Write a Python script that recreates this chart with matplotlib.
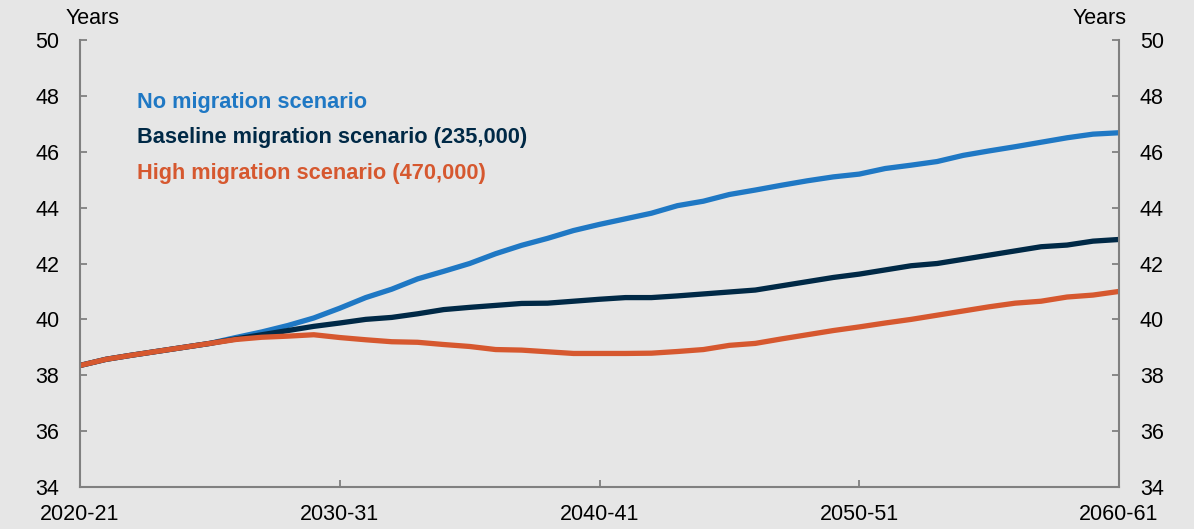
import numpy as np
import matplotlib
matplotlib.use("Agg")
import matplotlib.pyplot as plt

# Years 2020-21 .. 2060-61
start_years = list(range(2020, 2061))
year_labels = ["%d-%02d" % (y, (y + 1) % 100) for y in start_years]

# Median age, years
no_migration = [38.35, 38.57, 38.72, 38.86, 39.0, 39.14, 39.35, 39.55, 39.78, 40.05,
                40.4, 40.78, 41.08, 41.45, 41.72, 42.0, 42.35, 42.65, 42.9, 43.18,
                43.4, 43.6, 43.8, 44.07, 44.23, 44.47, 44.63, 44.8, 44.96, 45.1,
                45.2, 45.4, 45.52, 45.65, 45.87, 46.03, 46.18, 46.34, 46.5, 46.63,
                46.68]
baseline = [38.35, 38.57, 38.72, 38.86, 39.0, 39.14, 39.3, 39.45, 39.6, 39.75,
            39.87, 40.0, 40.07, 40.2, 40.35, 40.43, 40.5, 40.57, 40.58, 40.65,
            40.72, 40.78, 40.78, 40.84, 40.91, 40.98, 41.05, 41.2, 41.35, 41.5,
            41.62, 41.77, 41.92, 42.0, 42.15, 42.3, 42.45, 42.6, 42.66, 42.8,
            42.86]
high_migration = [38.35, 38.57, 38.72, 38.86, 39.0, 39.14, 39.28, 39.36, 39.4, 39.45,
                  39.35, 39.27, 39.2, 39.18, 39.1, 39.03, 38.92, 38.9, 38.84, 38.78,
                  38.78, 38.78, 38.79, 38.85, 38.92, 39.07, 39.14, 39.3, 39.45, 39.6,
                  39.73, 39.87, 40.0, 40.15, 40.3, 40.45, 40.58, 40.65, 40.8, 40.87,
                  41.0]

series_names = ["No migration scenario",
                "Baseline migration scenario (235,000)",
                "High migration scenario (470,000)"]
colors = ["#1f78c4", "#002946", "#d6582f"]

bg = "#e6e6e6"
spine_col = "#808080"
plt.rcParams['font.family'] = ['Liberation Sans', 'DejaVu Sans']

fig = plt.figure(figsize=(11.94, 5.29), dpi=100, facecolor=bg)
ax = fig.add_axes([80 / 1194, 42 / 529, 1039 / 1194, 447 / 529])
ax.set_facecolor(bg)

x = np.arange(len(start_years))
for vals, c in zip([no_migration, baseline, high_migration], colors):
    ax.plot(x, vals, color=c, lw=3.8, solid_capstyle='butt', solid_joinstyle='round')

ax.set_xlim(0, len(start_years) - 1)
ax.set_ylim(34, 50)
ax.set_yticks(range(34, 51, 2))
xt = [0, 10, 20, 30, 40]
ax.set_xticks(xt)
ax.set_xticklabels([year_labels[i] for i in xt])

for s in ['left', 'right', 'bottom']:
    ax.spines[s].set_color(spine_col)
    ax.spines[s].set_linewidth(1.5)
ax.spines['top'].set_visible(False)

ax.tick_params(axis='x', direction='in', length=5, width=1.3, color=spine_col,
               labelsize=15.5, pad=12)
ax.tick_params(axis='y', direction='in', length=5, width=1.3, color=spine_col,
               labelsize=15.5, pad=15, left=True, right=True,
               labelleft=True, labelright=True)

fig.text(93 / 1194, 1 - 18 / 529, "Years", fontsize=15.5, ha='center', va='center')
fig.text(1100 / 1194, 1 - 18 / 529, "Years", fontsize=15.5, ha='center', va='center')

for i, (name, c) in enumerate(zip(series_names, colors)):
    fig.text(137 / 1194, 1 - (102 + 36 * i) / 529, name, color=c, fontsize=15.7,
             fontweight='bold', ha='left', va='center')

fig.savefig("out.png", dpi=100, facecolor=bg)
